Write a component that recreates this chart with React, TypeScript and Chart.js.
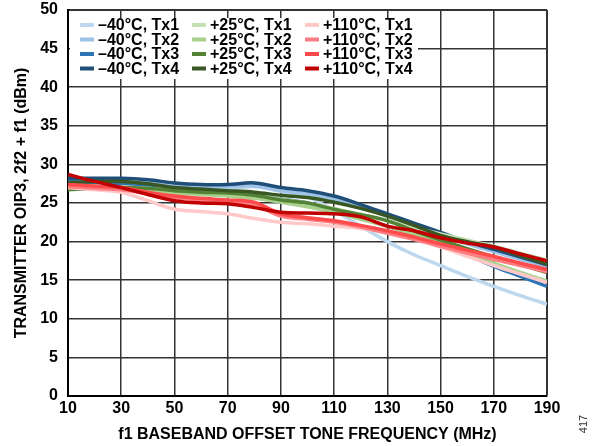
import React, { useEffect, useRef } from "react";
import { Chart, registerables } from "chart.js";

Chart.register(...registerables);

const frequencies = [10, 20, 30, 40, 50, 60, 70, 80, 90, 100, 110, 120, 130, 140, 150, 160, 170, 180, 190];

const m40Tx1 = [27.9, 27.8, 27.7, 27.4, 27.1, 26.9, 26.9, 27.1, 26.5, 25.8, 24.0, 22.0, 20.0, 18.3, 16.9, 15.5, 14.2, 13.0, 11.9];
const m40Tx2 = [28.0, 27.9, 27.8, 27.6, 27.3, 27.1, 27.1, 27.2, 26.6, 26.2, 25.5, 24.5, 23.3, 22.1, 20.9, 19.7, 18.7, 17.7, 16.8];
const m40Tx3 = [27.8, 27.6, 27.5, 27.2, 26.8, 26.5, 26.3, 26.0, 25.5, 25.0, 24.1, 23.1, 22.0, 21.0, 19.9, 18.3, 16.8, 15.5, 14.2];
const m40Tx4 = [28.2, 28.2, 28.2, 28.0, 27.6, 27.4, 27.4, 27.6, 27.0, 26.6, 25.9, 24.8, 23.6, 22.4, 21.2, 20.0, 19.0, 18.0, 17.0];
const p25Tx1 = [27.3, 27.2, 27.1, 26.9, 26.6, 26.4, 26.2, 26.0, 25.5, 25.0, 24.3, 23.5, 22.7, 21.8, 21.0, 20.2, 19.4, 18.5, 17.6];
const p25Tx2 = [27.2, 27.0, 26.9, 26.6, 26.3, 26.1, 25.9, 25.6, 25.1, 24.5, 23.8, 22.9, 22.0, 21.0, 19.8, 18.5, 17.2, 16.0, 14.9];
const p25Tx3 = [26.7, 26.9, 27.0, 26.9, 26.6, 26.4, 26.3, 26.0, 25.4, 25.0, 24.2, 23.5, 22.7, 21.4, 20.2, 19.1, 18.0, 17.0, 16.0];
const p25Tx4 = [27.6, 27.8, 27.8, 27.5, 27.0, 26.8, 26.6, 26.4, 26.0, 25.7, 25.1, 24.3, 23.3, 22.1, 20.8, 20.0, 19.3, 18.2, 17.1];
const p110Tx1 = [27.0, 26.7, 26.4, 25.3, 24.2, 23.9, 23.6, 23.0, 22.5, 22.3, 22.0, 21.7, 21.1, 20.3, 19.3, 18.1, 16.9, 15.8, 14.7];
const p110Tx2 = [27.1, 26.9, 26.7, 26.2, 25.7, 25.4, 25.2, 24.8, 23.3, 22.9, 22.5, 21.9, 21.1, 20.3, 19.4, 18.5, 17.7, 16.9, 16.1];
const p110Tx3 = [27.4, 27.2, 27.0, 26.4, 25.9, 25.6, 25.4, 25.1, 23.6, 23.1, 22.7, 22.1, 21.4, 20.6, 19.7, 18.9, 18.1, 17.2, 16.4];
const p110Tx4 = [28.7, 27.8, 27.0, 26.1, 25.3, 25.0, 24.9, 24.4, 23.8, 23.7, 23.6, 23.2, 22.0, 21.4, 20.5, 19.8, 19.3, 18.4, 17.5];

const seriesLabels = [
  "–40°C, Tx1", "–40°C, Tx2", "–40°C, Tx3", "–40°C, Tx4",
  "+25°C, Tx1", "+25°C, Tx2", "+25°C, Tx3", "+25°C, Tx4",
  "+110°C, Tx1", "+110°C, Tx2", "+110°C, Tx3", "+110°C, Tx4",
];
const seriesValues = [m40Tx1, m40Tx2, m40Tx3, m40Tx4, p25Tx1, p25Tx2, p25Tx3, p25Tx4, p110Tx1, p110Tx2, p110Tx3, p110Tx4];
const seriesColors = [
  "#bdd7ee", "#9dc3e6", "#2e75b6", "#1f4e79",
  "#c5e0b4", "#a9d18e", "#548235", "#385723",
  "#ffc9c9", "#ff7c80", "#ff4b4b", "#c00000",
];

const xTitle = "f1 BASEBAND OFFSET TONE FREQUENCY (MHz)";
const yTitle = "TRANSMITTER OIP3, 2f2 + f1 (dBm)";
const figureId = "417";

const FONT = '"Liberation Sans", Arial, sans-serif';

const legendPlugin = {
  id: "insideLegend",
  afterDraw(chart: any) {
    const ctx = chart.ctx as CanvasRenderingContext2D;
    ctx.save();
    ctx.fillStyle = "#ffffff";
    ctx.fillRect(70, 18, 348, 61);
    const colSwatch = [80, 192, 305];
    const rowY = [25, 39.5, 54, 68.5];
    ctx.font = `bold 16px ${FONT}`;
    ctx.textBaseline = "middle";
    ctx.textAlign = "left";
    seriesLabels.forEach((label, i) => {
      const col = Math.floor(i / 4);
      const row = i % 4;
      const sx = colSwatch[col];
      const y = rowY[row];
      ctx.strokeStyle = seriesColors[i];
      ctx.lineWidth = 4;
      ctx.beginPath();
      ctx.moveTo(sx, y);
      ctx.lineTo(sx + 14, y);
      ctx.stroke();
      ctx.fillStyle = "#000000";
      ctx.fillText(label, sx + 18, y + 1);
    });
    // figure id
    ctx.translate(584, 424);
    ctx.rotate(-Math.PI / 2);
    ctx.font = `11px ${FONT}`;
    ctx.fillStyle = "#333333";
    ctx.textAlign = "center";
    ctx.fillText(figureId, 0, 0);
    ctx.restore();
  },
};

export default function App() {
  const canvasRef = useRef<HTMLCanvasElement | null>(null);

  useEffect(() => {
    if (!canvasRef.current) return;
    const datasets = seriesValues.map((vals, i) => ({
      label: seriesLabels[i],
      data: frequencies.map((f, k) => ({ x: f, y: vals[k] })),
      borderColor: seriesColors[i],
      backgroundColor: seriesColors[i],
      borderWidth: 3.5,
      pointRadius: 0,
      tension: 0.35,
      fill: false,
      order: 12 - i,
    }));
    const chart = new Chart(canvasRef.current, {
      type: "line",
      data: { datasets },
      options: {
        animation: false,
        responsive: false,
        maintainAspectRatio: false,
        layout: { padding: { top: 0, right: 51, bottom: 0, left: 0 } },
        plugins: {
          legend: { display: false },
          tooltip: { enabled: false },
        },
        scales: {
          x: {
            type: "linear",
            min: 10,
            max: 190,
            afterFit: (s: any) => { s.height = 50; },
            ticks: {
              stepSize: 20,
              color: "#000",
              font: { family: FONT, size: 16, weight: "bold" },
              padding: 3,
              maxRotation: 0,
              autoSkip: false,
            },
            grid: {
              color: "#333",
              lineWidth: (c: any) => (c.tick && c.tick.value === 190 ? 2 : 1.5),
              drawTicks: false,
            },
            border: { display: true, color: "#000", width: 2 },
            title: {
              display: true,
              text: xTitle,
              color: "#000",
              font: { family: FONT, size: 16, weight: "bold" },
              padding: { top: 0, bottom: 2 },
            },
          },
          y: {
            type: "linear",
            min: 0,
            max: 50,
            afterFit: (s: any) => {
              s.width = 68;
              s.paddingTop = 10;
              s.paddingBottom = 0;
            },
            ticks: {
              stepSize: 5,
              color: "#000",
              font: { family: FONT, size: 16, weight: "bold" },
              padding: 10,
            },
            grid: {
              color: "#333",
              lineWidth: (c: any) => (c.tick && c.tick.value === 50 ? 2 : 1.5),
              drawTicks: false,
            },
            border: { display: true, color: "#000", width: 2 },
            title: {
              display: true,
              text: yTitle,
              color: "#000",
              font: { family: FONT, size: 16, weight: "bold" },
              padding: { top: 12, bottom: 0 },
            },
          },
        },
      },
      plugins: [legendPlugin],
    } as any);
    return () => chart.destroy();
  }, []);

  return (
    <div style={{ position: "absolute", left: 0, top: 0, width: 598, height: 446, background: "#fff" }}>
      <canvas ref={canvasRef} width={598} height={446} style={{ width: 598, height: 446 }} />
    </div>
  );
}
